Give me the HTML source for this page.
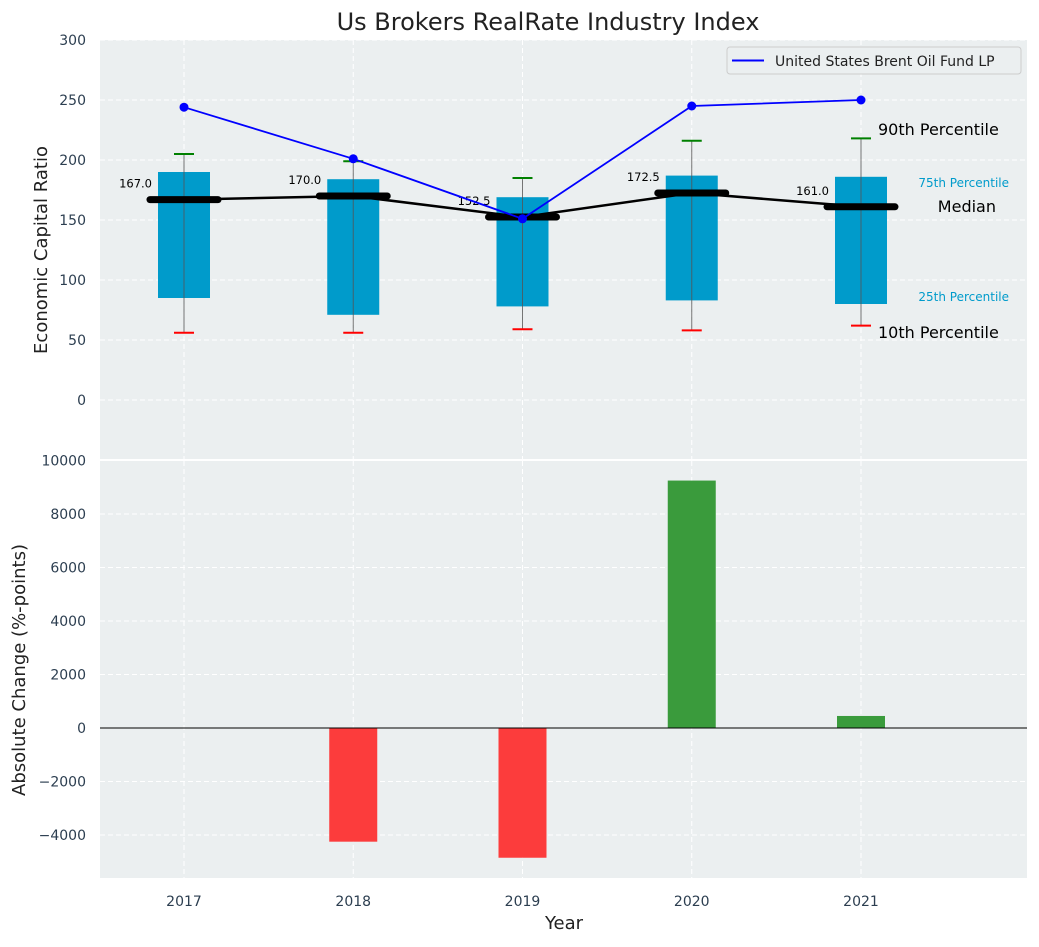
<!DOCTYPE html>
<html><head><meta charset="utf-8"><style>
body{margin:0;background:#fff;font-family:"Liberation Sans","DejaVu Sans",sans-serif;}
svg text{font-family:"DejaVu Sans","Liberation Sans",sans-serif;}
</style></head><body>
<svg id="c" width="1039" height="942" xmlns="http://www.w3.org/2000/svg"></svg>
<script>
const years=[2017,2018,2019,2020,2021];
const p10=[56,56,59,58,62];
const q1=[85,71,78,83,80];
const med=[167,170,152.5,172.5,161];
const q3=[190,184,169,187,186];
const p90=[205,199,185,216,218];
const fund=[244,201,151,245,250];
const changes=[0,-4250,-4850,9250,450];
const topTicks=[0,50,100,150,200,250,300];
const botTicks=[-4000,-2000,0,2000,4000,6000,8000,10000];

const svg=document.getElementById('c');
const NS='http://www.w3.org/2000/svg';
function el(t,a,txt){const e=document.createElementNS(NS,t);for(const k in a)e.setAttribute(k,a[k]);if(txt!==undefined)e.textContent=txt;svg.appendChild(e);return e;}
const X=v=>184+(v-2017)*169.25;
const Y1=v=>400-v*1.2;
const Y2=v=>728-v*0.02675;
const L=100,R=1027;

let e;
e=el('rect',{x:L,y:40,width:R-L,height:419,fill:'#ebeff0'});

e=el('rect',{x:L,y:461,width:R-L,height:417,fill:'#ebeff0'});

// grids
topTicks.forEach(t=>{el('line',{x1:L,x2:R,y1:Y1(t),y2:Y1(t),stroke:'#fff','stroke-dasharray':'5,3'});
 e=el('text',{x:L-14,y:Y1(t)+5,'text-anchor':'end','font-size':14,fill:'#2c3e50'},t);
 });
botTicks.forEach(t=>{el('line',{x1:L,x2:R,y1:Y2(t),y2:Y2(t),stroke:'#fff','stroke-dasharray':'5,3'});
 e=el('text',{x:L-14,y:Y2(t)+5,'text-anchor':'end','font-size':14,fill:'#2c3e50'},t<0?'\u2212'+(-t):t);
 });
years.forEach(y=>{el('line',{x1:X(y),x2:X(y),y1:40,y2:459,stroke:'#fff','stroke-dasharray':'5,3'});
 el('line',{x1:X(y),x2:X(y),y1:461,y2:878,stroke:'#fff','stroke-dasharray':'5,3'});
 e=el('text',{x:X(y),y:906,'text-anchor':'middle','font-size':14,fill:'#2c3e50'},y);
 });
// boxes
years.forEach((y,i)=>{const x=X(y);
 e=el('rect',{x:x-26,y:Y1(q3[i]),width:52,height:Y1(q1[i])-Y1(q3[i]),fill:'#009bcb'});
 
 el('line',{x1:x,x2:x,y1:Y1(p90[i]),y2:Y1(p10[i]),stroke:'#555','stroke-width':1,opacity:0.8});
 el('line',{x1:x-10,x2:x+10,y1:Y1(p90[i]),y2:Y1(p90[i]),stroke:'green','stroke-width':2});
 el('line',{x1:x-10,x2:x+10,y1:Y1(p10[i]),y2:Y1(p10[i]),stroke:'red','stroke-width':2});
});
e=el('polyline',{points:years.map((y,i)=>X(y)+','+Y1(med[i])).join(' '),fill:'none',stroke:'#000','stroke-width':2.5});

years.forEach((y,i)=>{const x=X(y);
 e=el('line',{x1:x-34,x2:x+34,y1:Y1(med[i]),y2:Y1(med[i]),stroke:'#000','stroke-width':7,'stroke-linecap':'round'});
 
 e=el('text',{x:x-32,y:Y1(med[i])-12,'text-anchor':'end','font-size':11.5,fill:'#000'},med[i].toFixed(1));
 
});
e=el('polyline',{points:years.map((y,i)=>X(y)+','+Y1(fund[i])).join(' '),fill:'none',stroke:'blue','stroke-width':1.8});

years.forEach((y,i)=>{e=el('circle',{cx:X(y),cy:Y1(fund[i]),r:4.5,fill:'blue'});
 });
// annotations
const lx=X(2021);
[['90th Percentile',lx+17,135,16,'#000','start'],['75th Percentile',1009,187,12,'#009bcb','end'],['Median',996,212,16,'#000','end'],['25th Percentile',1009,301,12,'#009bcb','end'],['10th Percentile',lx+17,338,16,'#000','start']].forEach(a=>{
 e=el('text',{x:a[1],y:a[2],'font-size':a[3],fill:a[4],'text-anchor':a[5]},a[0]);
 });
// legend
e=el('rect',{x:727,y:47,width:294,height:27,rx:3,fill:'#ebeff0',stroke:'#ccc'});

el('line',{x1:732,x2:764,y1:60.5,y2:60.5,stroke:'blue','stroke-width':2});
e=el('text',{x:775,y:66,'font-size':14,fill:'#222'},'United States Brent Oil Fund LP');

// bottom bars
years.forEach((y,i)=>{const v=changes[i];if(v===0)return;
 e=el('rect',{x:X(y)-24,y:Math.min(Y2(v),Y2(0)),width:48,height:Math.abs(Y2(v)-Y2(0)),fill:v>0?'#3a9b3c':'#fc3c3c'});
 });
el('line',{x1:L,x2:R,y1:Y2(0),y2:Y2(0),stroke:'#000','stroke-width':1});
// titles
e=el('text',{x:548,y:30,'text-anchor':'middle','font-size':24,fill:'#222'},'Us Brokers RealRate Industry Index');

e=el('text',{x:47,y:250,'text-anchor':'middle','font-size':18,fill:'#222',transform:'rotate(-90 47 250)'},'Economic Capital Ratio');

e=el('text',{x:25,y:670,'text-anchor':'middle','font-size':18,fill:'#222',transform:'rotate(-90 25 670)'},'Absolute Change (%-points)');

e=el('text',{x:564,y:929,'text-anchor':'middle','font-size':18,fill:'#222'},'Year');

</script>
</body></html>
